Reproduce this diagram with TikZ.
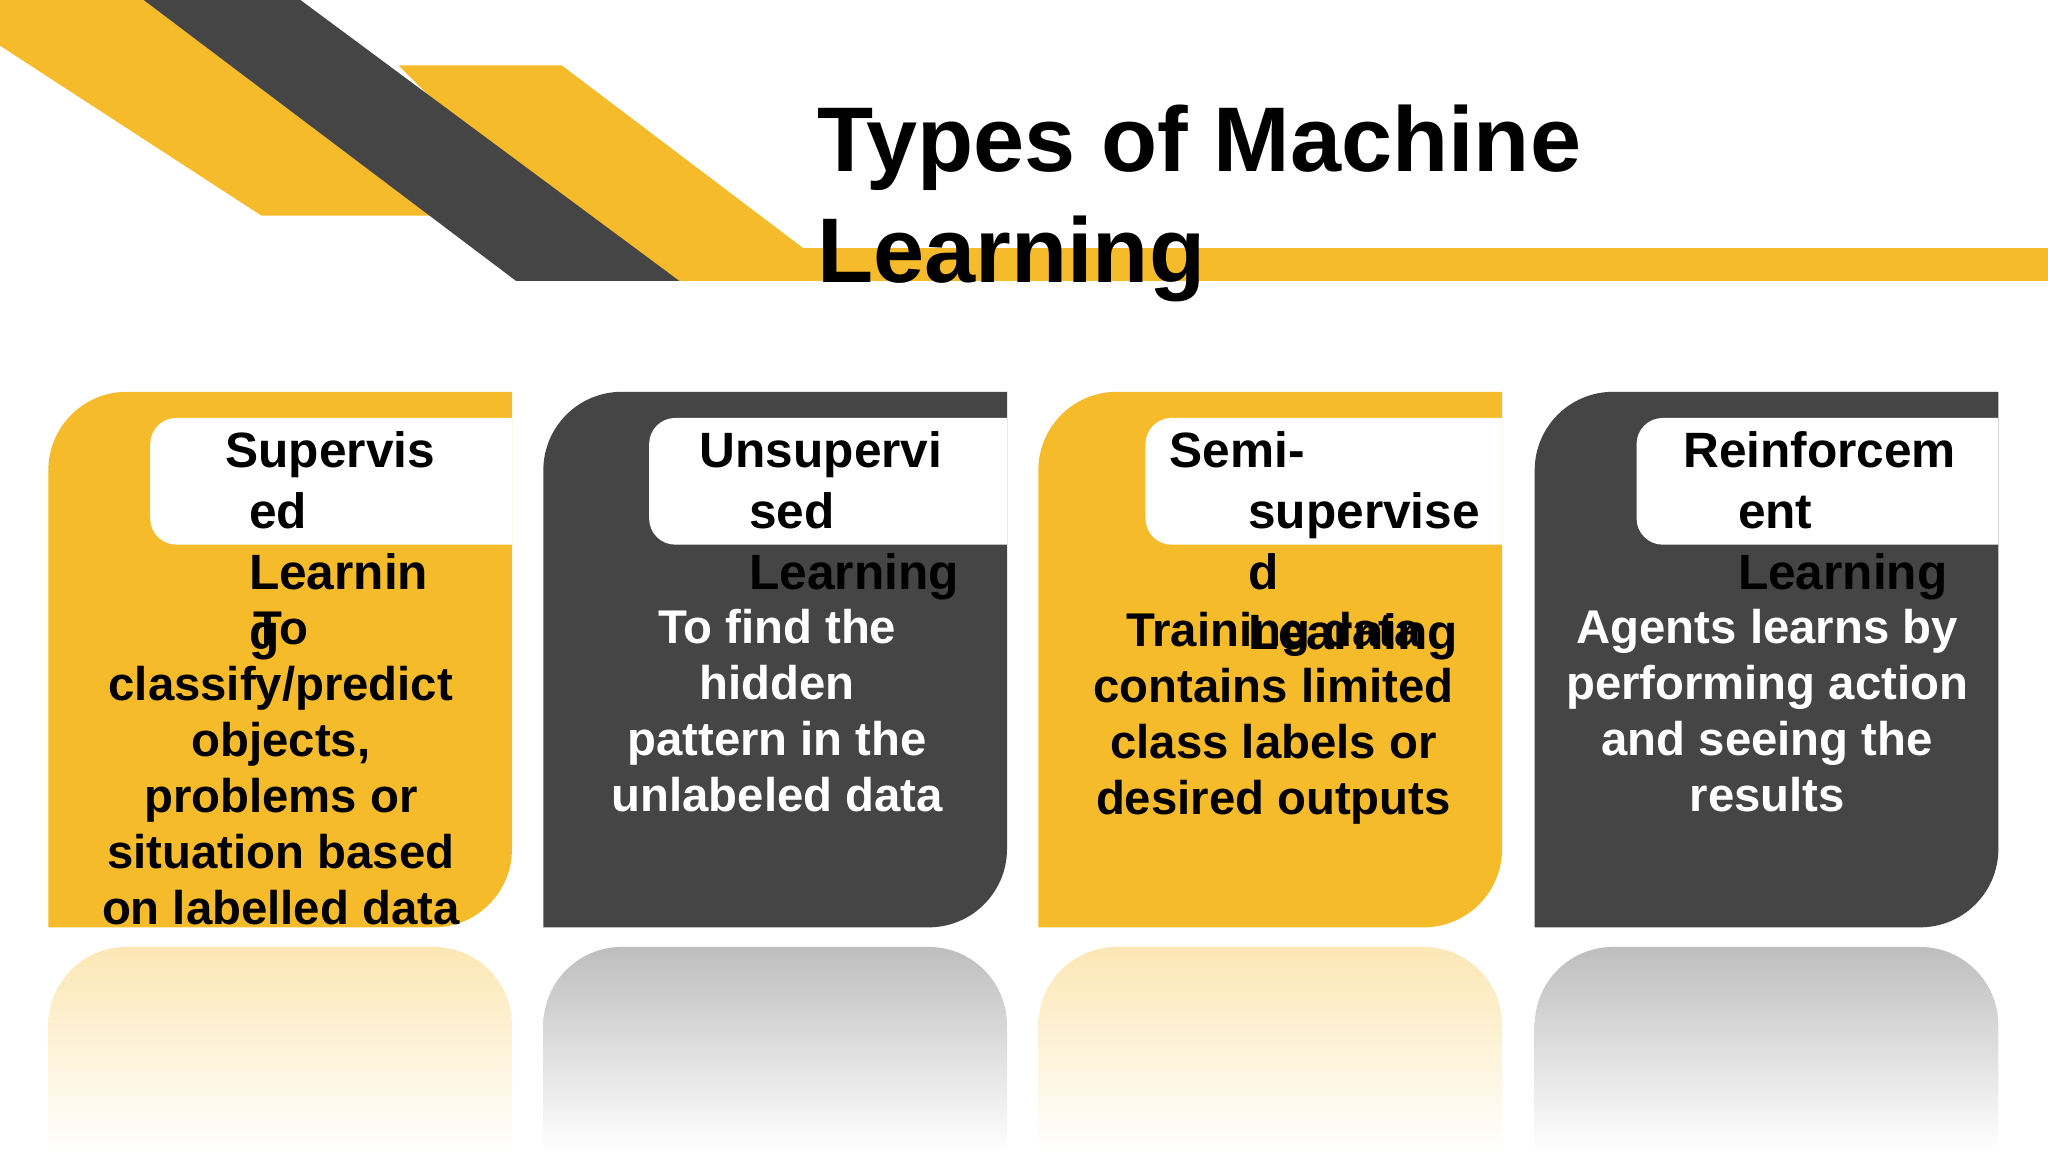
\documentclass[tikz,border=0pt]{standalone}
\usepackage{fontspec}
\setmainfont{Liberation Sans}
\definecolor{mlyellow}{HTML}{F6BB2A}
\definecolor{mldark}{HTML}{454545}
\tikzset{
  cardtitle/.style={anchor=north west, align=left, font=\bfseries\fontsize{10.8}{13.2}\selectfont, inner sep=0pt},
  cardbody/.style={anchor=north, align=center, font=\bfseries\fontsize{10.3}{12.2}\selectfont, inner sep=0pt}
}
\begin{document}
\begin{tikzpicture}[x=0.01cm, y=-0.01cm]
  \useasboundingbox (0,0) rectangle (1568,882);
  \fill[white] (0,0) rectangle (1568,882);

  % Draw the banner
  \fill[mlyellow] (0,0) -- (110,0) -- (330,165) -- (200,165) -- (0,35) -- cycle;
  \fill[mlyellow] (305,50) -- (430,50) -- (615,190) -- (1568,190) -- (1568,215) -- (470,215) -- cycle;
  \fill[mldark] (110,0) -- (230,0) -- (520,215) -- (395,215) -- cycle;
  \node[anchor=north west, align=left, inner sep=0pt, font=\bfseries\fontsize{20}{24}\selectfont] (title) at (625,80) {Types of Machine\\Learning};

  % Draw the cards and their reflections
  \foreach \x/\col/\bx in {37/mlyellow/115, 416/mldark/497, 795/mlyellow/877, 1175/mldark/1253} {
    \pgfmathsetmacro{\xr}{\x+355}
    \fill[\col] (\x,710) -- (\x,360) arc(180:270:60) -- (\xr,300) -- (\xr,650) arc(0:90:60) -- cycle;
    \shade[top color=\col!35, bottom color=white] (\x,882) -- (\x,785) arc(180:270:60) -- ({\xr-60},725) arc(270:360:60) -- (\xr,882) -- cycle;
    \fill[white] (\xr,320) -- (\xr,417) -- ({\bx+20},417) arc(90:180:20) -- (\bx,340) arc(180:270:20) -- cycle;
  }

  % Card texts
  \node[cardtitle] (supT) at (172,330) {Supervis\\\hspace*{0.18cm}ed\\\hspace*{0.18cm}Learnin\\\hspace*{0.18cm}g};
  \node[cardbody] (supB) at (215,468) {To\\classify/predict\\objects,\\problems or\\situation based\\on\ labelled data};
  \node[cardtitle] (unsT) at (535,330) {Unsupervi\\\hspace*{0.38cm}sed\\\hspace*{0.38cm}Learning};
  \node[cardbody, text=white] (unsB) at (595,466) {To find the\\hidden\\pattern in the\\unlabeled data};
  \node[cardtitle] (semT) at (895,330) {Semi-\\\hspace*{0.6cm}supervise\\\hspace*{0.6cm}d\\\hspace*{0.6cm}Learning};
  \node[cardbody] (semB) at (975,468) {Training data\\contains\ limited\\class labels or\\desired outputs};
  \node[cardtitle] (reiT) at (1288,330) {Reinforcem\\\hspace*{0.42cm}ent\\\hspace*{0.42cm}Learning};
  \node[cardbody, text=white] (reiB) at (1353,466) {Agents learns by\\performing action\\and\ seeing the\\results};
\end{tikzpicture}
\end{document}
